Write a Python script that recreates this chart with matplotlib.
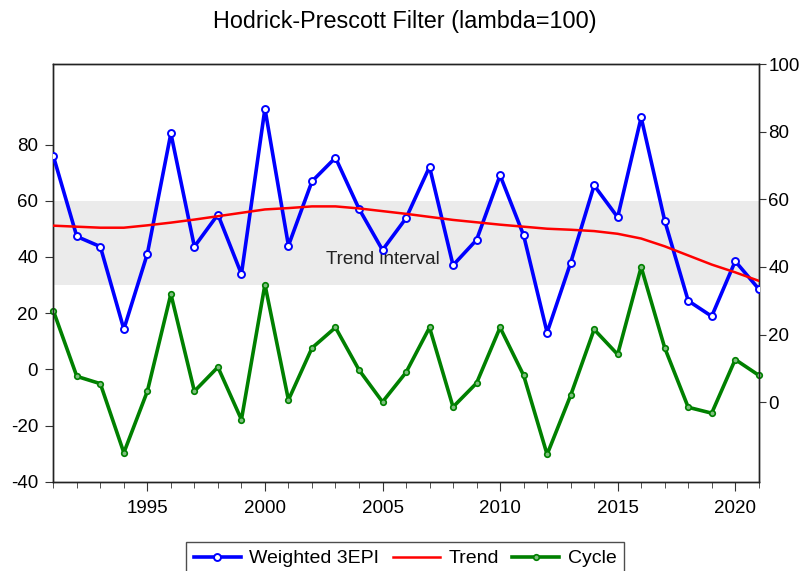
import matplotlib
matplotlib.use("Agg")
import matplotlib.pyplot as plt
from matplotlib.ticker import MultipleLocator

plt.rcParams['font.family'] = ['Liberation Sans', 'DejaVu Sans']
plt.rcParams['axes.unicode_minus'] = False

years = list(range(1991, 2022))

# series (weighted + trend on right axis, cycle on left)
weighted = [72.8, 49.0, 46.0, 21.6, 43.9, 79.5, 46.0, 55.5, 37.9, 86.8,
            46.3, 65.3, 72.3, 57.2, 45.0, 54.4, 69.6, 40.5, 48.0, 67.1,
            49.4, 20.6, 41.2, 64.1, 54.7, 84.2, 53.7, 30.0, 25.4, 41.7, 33.5]
trend = [52.2, 51.9, 51.6, 51.6, 52.3, 53.1, 54.0, 55.0, 56.0, 57.0,
         57.4, 57.9, 57.9, 57.3, 56.5, 55.7, 54.8, 53.9, 53.2, 52.5,
         51.9, 51.3, 51.0, 50.6, 49.8, 48.4, 46.1, 43.4, 40.7, 38.4, 35.9]
cycle = [20.9, -2.5, -5.1, -29.7, -7.8, 26.8, -7.8, 0.8, -17.9, 30.2,
         -10.9, 7.6, 14.9, -0.2, -11.6, -1.1, 14.9, -13.4, -4.9, 14.9,
         -2.1, -30.3, -9.3, 14.2, 5.3, 36.4, 7.7, -13.5, -15.6, 3.5, -2.1]

band_low, band_high = 30, 60
left_ticks = [-40, -20, 0, 20, 40, 60, 80]
right_ticks = [0, 20, 40, 60, 80, 100]
year_labels = [1995, 2000, 2005, 2010, 2015, 2020]

fig = plt.figure(figsize=(8.04, 5.71), dpi=100)
ax = fig.add_axes([0.0663, 0.1564, 0.8774, 0.7315])
ax2 = ax.twinx()

# trend interval band
ax.axhspan(band_low, band_high, color='#EBEBEB', lw=0, zorder=0)
ax.text(2005, 39.2, 'Trend interval', fontsize=13.5, ha='center', va='center',
        color='#222222', zorder=1)

# cycle on the left axis
l3, = ax.plot(years, cycle, color='#008000', lw=2.6, marker='o', markersize=4,
              markerfacecolor='#7FBF7F', markeredgecolor='#008000',
              markeredgewidth=1.2, label='Cycle', zorder=3, clip_on=False)

# series and trend on the right axis
l1, = ax2.plot(years, weighted, color='#0000FF', lw=2.6, marker='o', markersize=5,
               markerfacecolor='white', markeredgecolor='#0000FF',
               markeredgewidth=1.4, label='Weighted 3EPI', zorder=3)
l2, = ax2.plot(years, trend, color='#FF0000', lw=1.8, label='Trend', zorder=4)

ax.set_xlim(1991, 2021)
ax.set_ylim(-40, 108.7)
ax2.set_ylim(-23.5, 100)

ax.set_yticks(left_ticks)
ax2.set_yticks(right_ticks)
ax.set_xticks(year_labels)
ax.xaxis.set_minor_locator(MultipleLocator(1))

ax.tick_params(axis='both', which='major', labelsize=13.5, direction='out',
               color='#333333')
ax.tick_params(axis='x', which='major', length=6.5, pad=7)
ax.tick_params(axis='x', which='minor', length=4, direction='out', color='#333333')
ax.tick_params(axis='y', length=6, pad=5)
ax2.tick_params(axis='y', labelsize=13.5, length=5, pad=2, direction='out',
                color='#333333')

for a in (ax, ax2):
    for s in a.spines.values():
        s.set_color('#222222')
        s.set_linewidth(1.0)

# title
fig.text(0.504, 0.962, 'Hodrick-Prescott Filter (lambda=100)', fontsize=16.8,
         ha='center', va='center')

# legend at the bottom (partly cut, like the original)
leg = fig.legend([l1, l2, l3], ['Weighted 3EPI', 'Trend', 'Cycle'],
                 loc='upper center', bbox_to_anchor=(0.504, 1 - 542 / 571),
                 ncol=3, fontsize=14, frameon=True, fancybox=False,
                 edgecolor='#222222', handlelength=2.4, columnspacing=0.7,
                 handletextpad=0.45, borderaxespad=0)
leg.get_frame().set_linewidth(1.0)

fig.savefig('out.png', dpi=100)
